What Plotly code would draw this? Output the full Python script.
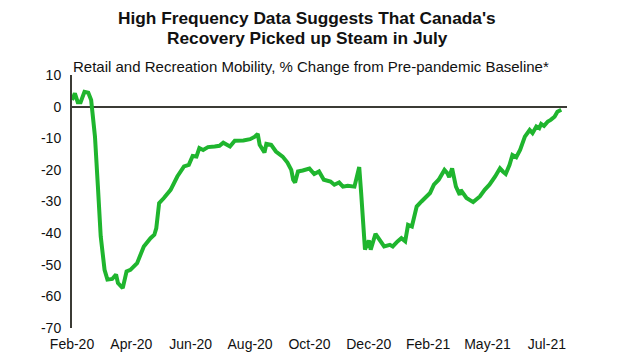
import pandas as pd
import plotly.graph_objects as go

# ---- data ----
dates = [
    "2020-02-22", "2020-02-25", "2020-02-28", "2020-03-02", "2020-03-06", "2020-03-10",
    "2020-03-13", "2020-03-14", "2020-03-17", "2020-03-20", "2020-03-23", "2020-03-27",
    "2020-03-30", "2020-04-04", "2020-04-08", "2020-04-10", "2020-04-15", "2020-04-19",
    "2020-04-23", "2020-04-30", "2020-05-07", "2020-05-14", "2020-05-18", "2020-05-20",
    "2020-05-23", "2020-05-28", "2020-06-04", "2020-06-11", "2020-06-18", "2020-06-23",
    "2020-06-27", "2020-07-01", "2020-07-04", "2020-07-08", "2020-07-13", "2020-07-20",
    "2020-07-25", "2020-07-29", "2020-08-05", "2020-08-10", "2020-08-19", "2020-08-26",
    "2020-08-31", "2020-09-03", "2020-09-05", "2020-09-10", "2020-09-12", "2020-09-17",
    "2020-09-22", "2020-09-29", "2020-10-04", "2020-10-08", "2020-10-10", "2020-10-12",
    "2020-10-15", "2020-10-20", "2020-10-27", "2020-11-01", "2020-11-06", "2020-11-11",
    "2020-11-18", "2020-11-22", "2020-11-27", "2020-12-01", "2020-12-06", "2020-12-13",
    "2020-12-16", "2020-12-18", "2020-12-20", "2020-12-22", "2020-12-24", "2020-12-28",
    "2020-12-30", "2021-01-04", "2021-01-08", "2021-01-13", "2021-01-19", "2021-01-22",
    "2021-01-27", "2021-01-31", "2021-02-04", "2021-02-07", "2021-02-11", "2021-02-16",
    "2021-02-21", "2021-02-26", "2021-03-02", "2021-03-06", "2021-03-11", "2021-03-17",
    "2021-03-20", "2021-03-22", "2021-03-25", "2021-03-29", "2021-04-02", "2021-04-03",
    "2021-04-09", "2021-04-16", "2021-04-23", "2021-04-28", "2021-05-03", "2021-05-09",
    "2021-05-14", "2021-05-17", "2021-05-20", "2021-05-24", "2021-05-27", "2021-05-31",
    "2021-06-04", "2021-06-09", "2021-06-14", "2021-06-17", "2021-06-21", "2021-06-24",
    "2021-06-26", "2021-06-29", "2021-07-03", "2021-07-06", "2021-07-10", "2021-07-13",
    "2021-07-17",
]
mobility = [
    2.1, 4.2, 1.4, 1.4, 4.7, 4.4,
    2.1, -0.3, -9.5, -25.0, -41.0, -51.6,
    -54.7, -54.5, -53.1, -55.8, -57.4, -52.1,
    -51.6, -49.5, -44.2, -41.6, -40.5, -38.5,
    -30.5, -28.9, -26.3, -22.1, -18.9, -18.4,
    -15.6, -15.8, -13.1, -13.7, -12.8, -12.6,
    -12.4, -11.4, -12.6, -10.8, -10.7, -10.3,
    -9.5, -8.6, -12.1, -14.5, -11.8, -12.1,
    -14.2, -15.8, -17.7, -20.0, -23.1, -24.0,
    -20.5, -20.2, -19.6, -21.3, -20.5, -23.1,
    -23.7, -24.7, -24.0, -25.3, -25.0, -25.3,
    -22.1, -19.1, -27.3, -38.9, -45.2, -42.3,
    -45.2, -40.2, -42.1, -44.2, -43.7, -44.2,
    -42.6, -41.6, -42.6, -37.4, -37.9, -31.6,
    -30.0, -28.4, -27.3, -24.7, -23.1, -20.0,
    -21.0, -22.3, -19.5, -25.3, -27.9, -26.3,
    -28.9, -30.2, -28.4, -26.3, -24.7, -22.1,
    -19.5, -20.5, -21.3, -18.4, -15.3, -16.0,
    -13.7, -9.5, -7.4, -8.4, -6.3, -6.8,
    -5.5, -6.1, -4.7, -4.2, -3.2, -1.6,
    -1.0,
]
tick_labels = ["Feb-20", "Apr-20", "Jun-20", "Aug-20", "Oct-20",
               "Dec-20", "Feb-21", "May-21", "Jul-21"]
tick_start = "2020-02-22"
tick_step_days = 62
y_ticks = [10, 0, -10, -20, -30, -40, -50, -60, -70]
y_tick_labels = ["10", "0", "-10", "-20", "-30", "-40", "-50", "-60", "-70"]

title_lines = ["High Frequency Data Suggests That Canada's",
               "Recovery Picked up Steam in July"]
subtitle_text = "Retail and Recreation Mobility, % Change from Pre-pandemic Baseline*"

# ---- figure ----
tick_vals = pd.date_range(tick_start, periods=len(tick_labels),
                          freq=f"{tick_step_days}D")

FONT = "Arial, 'Liberation Sans', sans-serif"
AXIS_COLOR = "#3b3b35"
TEXT_COLOR = "#111111"

# The page body adds an 8px offset, so the figure is 8px smaller.
W, H = 612, 356
ML, MR, MT, MB = 64, 53, 67, 36
PW, PH = W - ML - MR, H - MT - MB


def px_to_paper_x(px):
    return (px - ML) / PW


def px_to_paper_y(py):
    return (H - MB - py) / PH


fig = go.Figure(
    go.Scatter(
        x=pd.to_datetime(dates), y=mobility, mode="lines",
        line=dict(color="#1fb52e", width=4), hoverinfo="skip",
    )
)

annotations = [
    dict(text=f"<b>{title_lines[0]}</b>", xref="paper", yref="paper",
         x=px_to_paper_x(299), y=px_to_paper_y(10.5),
         xanchor="center", yanchor="middle", showarrow=False,
         font=dict(family=FONT, size=17.3, color=TEXT_COLOR)),
    dict(text=f"<b>{title_lines[1]}</b>", xref="paper", yref="paper",
         x=px_to_paper_x(299), y=px_to_paper_y(30.5),
         xanchor="center", yanchor="middle", showarrow=False,
         font=dict(family=FONT, size=17.3, color=TEXT_COLOR)),
    dict(text=subtitle_text, xref="paper", yref="paper",
         x=px_to_paper_x(63), y=px_to_paper_y(59),
         xanchor="left", yanchor="middle", showarrow=False,
         font=dict(family=FONT, size=15, color=TEXT_COLOR)),
]

fig.update_layout(
    width=W, height=H,
    margin=dict(l=ML, r=MR, t=MT, b=MB),
    paper_bgcolor="white", plot_bgcolor="white",
    showlegend=False,
    font=dict(family=FONT, size=14, color=TEXT_COLOR),
    annotations=annotations,
)

fig.update_xaxes(
    type="date",
    range=[pd.Timestamp(tick_start), pd.Timestamp("2021-07-23")],
    tickmode="array", tickvals=tick_vals, ticktext=tick_labels,
    showgrid=False, showline=False, zeroline=False, ticks="",
    ticklabelstandoff=6, tickfont=dict(size=14),
)
fig.update_yaxes(
    range=[-70, 10], tickmode="array", tickvals=y_ticks, ticktext=y_tick_labels,
    showgrid=False, showline=True, linecolor=AXIS_COLOR, linewidth=2,
    zeroline=True, zerolinecolor=AXIS_COLOR, zerolinewidth=2,
    ticks="", ticklabelstandoff=6, tickfont=dict(size=14),
)

fig.write_html("out.html")
